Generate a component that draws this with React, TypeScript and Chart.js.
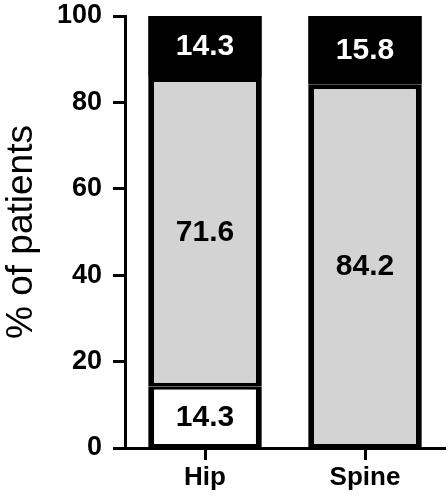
import React, { useEffect, useRef } from "react";
import { Chart, registerables } from "chart.js";

Chart.register(...registerables);

const categories = ["Hip", "Spine"];
const lowValues = [14.3, 0];
const midValues = [71.6, 84.2];
const highValues = [14.3, 15.8];
const yTicks = [0, 20, 40, 60, 80, 100];
const yTitle = "% of patients";

const FONT = "'Liberation Sans', Arial, sans-serif";

const labelPlugin = {
  id: "segLabels",
  afterDatasetsDraw(chart: any) {
    const ctx = chart.ctx;
    ctx.save();
    ctx.font = `bold 30px ${FONT}`;
    ctx.textAlign = "center";
    ctx.textBaseline = "middle";
    chart.data.datasets.forEach((ds: any, di: number) => {
      const meta = chart.getDatasetMeta(di);
      meta.data.forEach((el: any, i: number) => {
        const v = ds.data[i];
        if (!v) return;
        const p = el.getProps(["x", "y", "base"], true);
        ctx.fillStyle = ds.labelColor;
        ctx.fillText(v.toFixed(1), p.x, (p.y + p.base) / 2 + 1);
      });
    });
    ctx.restore();
  },
};

export default function App() {
  const ref = useRef<HTMLCanvasElement>(null);
  useEffect(() => {
    document.body.style.margin = "0";
    const common = {
      borderColor: "#000000",
      borderSkipped: false,
      categoryPercentage: 1,
      barPercentage: 0.71,
    };
    const chart = new Chart(ref.current!, {
      type: "bar",
      data: {
        labels: categories,
        datasets: [
          {
            ...common,
            data: lowValues,
            backgroundColor: "#ffffff",
            borderWidth: { top: 3.5, bottom: 3.5, left: 6, right: 6 },
            labelColor: "#000000",
          } as any,
          {
            ...common,
            data: midValues,
            backgroundColor: "#d3d3d3",
            borderWidth: { top: 5, bottom: 3.5, left: 6, right: 6 },
            labelColor: "#000000",
          } as any,
          {
            ...common,
            data: highValues,
            backgroundColor: "#000000",
            borderWidth: 0,
            labelColor: "#ffffff",
          } as any,
        ],
      },
      options: {
        animation: false,
        responsive: false,
        layout: { padding: { top: 16, right: 3, left: 0, bottom: 0 } },
        plugins: { legend: { display: false }, tooltip: { enabled: false } },
        scales: {
          x: {
            stacked: true,
            grid: {
              display: true,
              drawOnChartArea: false,
              offset: false,
              tickLength: 12,
              tickWidth: 3,
              tickColor: "#000000",
            },
            border: { display: true, color: "#000000", width: 3 },
            ticks: {
              color: "#000000",
              font: { family: FONT, size: 26, weight: "bold" },
              padding: 2,
            },
            afterFit: (s: any) => {
              s.height = 52;
            },
          },
          y: {
            stacked: true,
            min: 0,
            max: 100,
            afterBuildTicks: (s: any) => {
              s.ticks = yTicks.map((v) => ({ value: v }));
            },
            grid: {
              display: true,
              drawOnChartArea: false,
              tickLength: 12,
              tickWidth: 3,
              tickColor: "#000000",
            },
            border: { display: true, color: "#000000", width: 3 },
            ticks: {
              color: "#000000",
              font: { family: FONT, size: 27, weight: "bold", lineHeight: 1.0 },
              padding: 11,
            },
            title: {
              display: true,
              text: yTitle,
              color: "#000000",
              font: { family: FONT, size: 37, weight: "normal" },
              padding: 0,
            },
            afterFit: (s: any) => {
              s.width = 125;
              s.paddingTop = 0;
              s.paddingBottom = 0;
            },
          },
        },
      },
      plugins: [labelPlugin],
    });
    return () => chart.destroy();
  }, []);
  return (
    <div style={{ position: "absolute", left: 0, top: 0, width: 448, height: 500 }}>
      <canvas ref={ref} width={448} height={500} />
    </div>
  );
}
